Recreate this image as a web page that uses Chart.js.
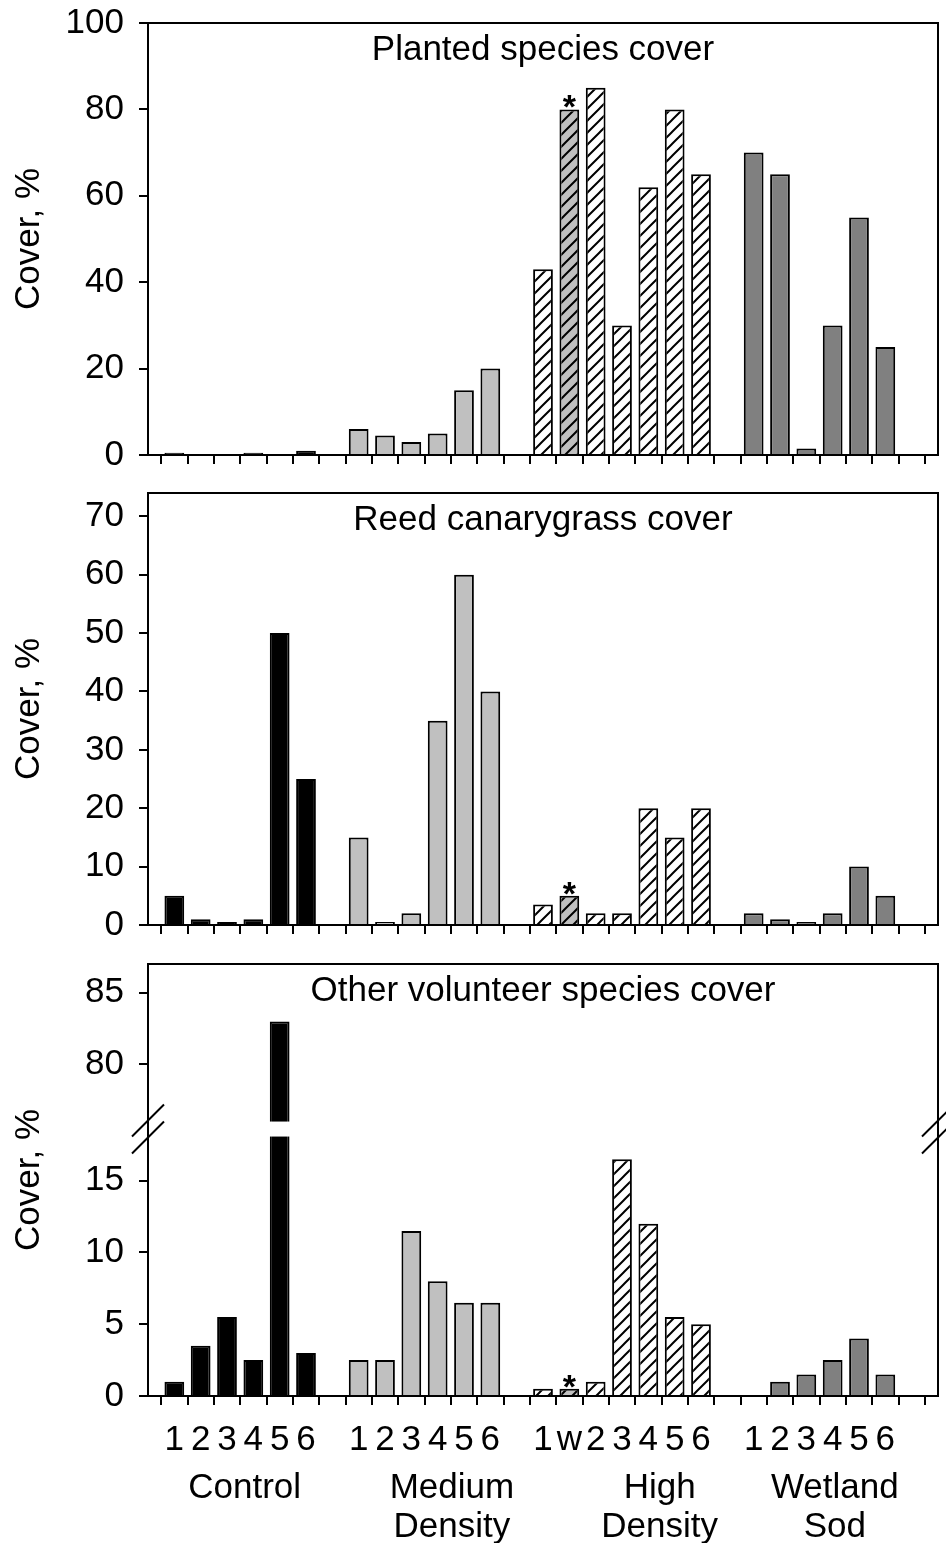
<!DOCTYPE html>
<html lang="en">
<head>
<meta charset="UTF-8">
<title>Cover by treatment</title>
<script src="https://cdn.jsdelivr.net/npm/chart.js"></script>
<style>
  body { margin: 0; background: #fff; }
  canvas { position: absolute; left: 0; }
</style>
</head>
<body>
<canvas id="planted" width="946" height="478" style="top:0px"></canvas>
<canvas id="reed" width="946" height="470" style="top:478px"></canvas>
<canvas id="other" width="946" height="595" style="top:948px"></canvas>

<script>
    // plots per treatment, in axis order
    const treatments = [['Control'], ['Medium', 'Density'], ['High', 'Density'], ['Wetland', 'Sod']];
    const plotLabels = [
        ['1', '2', '3', '4', '5', '6'],
        ['1', '2', '3', '4', '5', '6'],
        ['1', 'w', '2', '3', '4', '5', '6'],
        ['1', '2', '3', '4', '5', '6']
    ];

    // cover, % (read per plot, same order as plotLabels)
    const planted = [0.5, 0, 0, 0.5, 0, 1,   6, 4.5, 3, 5, 15, 20,   43, 80, 85, 30, 62, 80, 65,   70, 65, 1.5, 30, 55, 25];
    const reed    = [5, 1, 0.5, 1, 50, 25,   15, 0.5, 2, 35, 60, 40,   3.5, 5, 2, 2, 20, 15, 20,   2, 1, 0.5, 2, 10, 5];
    const other   = [1, 3.5, 5.5, 2.5, 83, 3,   2.5, 2.5, 11.5, 8, 6.5, 6.5,   0.5, 0.5, 1, 16.5, 12, 5.5, 5,   0, 1, 1.5, 2.5, 4, 1.5];

    const plantedTicks = [0, 20, 40, 60, 80, 100];
    const reedTicks = [0, 10, 20, 30, 40, 50, 60, 70];
    const otherTicks = [0, 5, 10, 15, 80, 85];

    // broken axis on the bottom panel: values above breakAt are shifted down
    const breakAt = 18.6;
    const breakShift = 56.9;
    const toAxis = v => v > breakAt ? v - breakShift : v;
    const fromAxis = v => v > breakAt ? v + breakShift : v;

    // centre of each treatment name, in category units
    const treatmentPos = [3.67, 11.54, 19.43, 26.08];

    const FONT = "'Liberation Sans', Arial, sans-serif";
    Chart.defaults.font.family = FONT;
    Chart.defaults.color = '#000';

    // one empty slot at each end and between treatments
    const labels = [''];
    const slotGroup = [null];
    const slotPlot = [null];
    plotLabels.forEach((group, gi) => {
        group.forEach(p => {
            labels.push(p);
            slotGroup.push(gi);
            slotPlot.push(p);
        });
        labels.push('');
        slotGroup.push(null);
        slotPlot.push(null);
    });
    labels.push('');
    slotGroup.push(null);
    slotPlot.push(null);

    function spread(values) {
        let k = 0;
        return slotGroup.map(g => g === null ? null : values[k++]);
    }

    function hatch(bg) {
        const c = document.createElement('canvas');
        c.width = 12;
        c.height = 12;
        const g = c.getContext('2d');
        g.fillStyle = bg;
        g.fillRect(0, 0, 12, 12);
        g.strokeStyle = '#000';
        g.lineWidth = 2;
        g.beginPath();
        g.moveTo(-2, 2); g.lineTo(2, -2);
        g.moveTo(-2, 14); g.lineTo(14, -2);
        g.moveTo(10, 14); g.lineTo(14, 10);
        g.stroke();
        return g.createPattern(c, 'repeat');
    }

    const hatchWhite = hatch('#ffffff');
    const hatchGrey = hatch('#c0c0c0');
    const groupFill = ['#000000', '#c0c0c0', hatchWhite, '#808080'];

    function fillFor(i) {
        const g = slotGroup[i];
        if (g === null) return 'transparent';
        if (g === 2 && slotPlot[i] === 'w') return hatchGrey;
        return groupFill[g];
    }

    const frame = {
        id: 'frame',
        afterDatasetsDraw(chart) {
            const {ctx, chartArea: a} = chart;
            ctx.save();
            ctx.strokeStyle = '#000';
            ctx.lineWidth = 2;
            ctx.strokeRect(a.left, a.top, a.right - a.left, a.bottom - a.top);
            ctx.restore();
        }
    };

    const panelTitle = {
        id: 'panelTitle',
        afterDatasetsDraw(chart, args, opts) {
            const {ctx, chartArea: a} = chart;
            ctx.save();
            ctx.font = '35px ' + FONT;
            ctx.fillStyle = '#000';
            ctx.textAlign = 'center';
            ctx.textBaseline = 'alphabetic';
            ctx.fillText(opts.text, (a.left + a.right) / 2, a.top + 37);
            ctx.restore();
        }
    };

    const star = {
        id: 'star',
        afterDatasetsDraw(chart) {
            const {ctx} = chart;
            const bar = chart.getDatasetMeta(0).data[slotPlot.indexOf('w')];
            ctx.save();
            ctx.font = 'bold 34px ' + FONT;
            ctx.fillStyle = '#000';
            ctx.textAlign = 'center';
            ctx.textBaseline = 'alphabetic';
            ctx.fillText('*', bar.x, bar.y + 9);
            ctx.restore();
        }
    };

    const axisBreak = {
        id: 'axisBreak',
        afterDatasetsDraw(chart) {
            const {ctx, chartArea: a, scales: {y}} = chart;
            const yb = y.getPixelForValue(breakAt);
            const data = chart.data.datasets[0].data;
            ctx.save();
            ctx.fillStyle = '#fff';
            chart.getDatasetMeta(0).data.forEach((bar, i) => {
                if (data[i] !== null && data[i] > breakAt) {
                    ctx.fillRect(bar.x - bar.width / 2 - 1, yb - 7.5, bar.width + 2, 15);
                }
            });
            ctx.strokeStyle = '#000';
            ctx.lineWidth = 2;
            [a.left, a.right].forEach(x => {
                [-8.5, 8.5].forEach(d => {
                    ctx.beginPath();
                    ctx.moveTo(x - 16, yb + d + 16);
                    ctx.lineTo(x + 16, yb + d - 16);
                    ctx.stroke();
                });
            });
            ctx.restore();
        }
    };

    const treatmentNames = {
        id: 'treatmentNames',
        afterDraw(chart) {
            const {ctx, chartArea: a, scales: {x}} = chart;
            ctx.save();
            ctx.font = '35px ' + FONT;
            ctx.fillStyle = '#000';
            ctx.textAlign = 'center';
            ctx.textBaseline = 'alphabetic';
            treatments.forEach((lines, i) => {
                const px = x.getPixelForValue(treatmentPos[i]);
                lines.forEach((t, j) => ctx.fillText(t, px, a.bottom + 102 + j * 39));
            });
            ctx.restore();
        }
    };

    function fromAxisFor(opts, v) {
        return opts.broken ? fromAxis(v) : v;
    }

    function draw(id, values, opts) {
        const map = opts.map || (v => v);
        const dataObj = {
            labels: labels,
            datasets: [{
                data: spread(values.map(map)),
                backgroundColor: ctx => fillFor(ctx.dataIndex),
                borderColor: '#000',
                borderWidth: 2,
                barPercentage: 0.75,
                categoryPercentage: 1
            }]
        };

        const plugins = [frame, panelTitle, star];
        if (opts.broken) plugins.push(axisBreak);
        if (opts.names) plugins.push(treatmentNames);

        new Chart(id, {
            type: 'bar',
            data: dataObj,
            plugins: plugins,
            options: {
                responsive: false,
                animation: false,
                layout: {padding: {top: opts.top, right: 8, left: 0, bottom: 0}},
                plugins: {
                    legend: {display: false},
                    tooltip: {enabled: false},
                    panelTitle: {text: opts.title}
                },
                scales: {
                    x: {
                        type: 'category',
                        offset: false,
                        grid: {drawOnChartArea: false, drawTicks: true, tickLength: 9, color: '#000', lineWidth: 2},
                        border: {display: true, color: '#000', width: 2},
                        ticks: {
                            display: !!opts.names,
                            autoSkip: false,
                            maxRotation: 0,
                            padding: 14,
                            font: {size: 35}
                        },
                        afterFit: s => {
                            s.height = opts.xHeight;
                            s.paddingLeft = 0;
                            s.paddingRight = 0;
                        }
                    },
                    y: {
                        min: 0,
                        max: opts.max,
                        grid: {drawOnChartArea: false, tickLength: 9, color: '#000', lineWidth: 2},
                        border: {display: true, color: '#000', width: 2},
                        ticks: {
                            autoSkip: false,
                            padding: 15,
                            font: {size: 35},
                            callback: v => String(Math.round(fromAxisFor(opts, v) * 10) / 10)
                        },
                        title: {
                            display: true,
                            text: 'Cover, %',
                            font: {size: 35},
                            padding: {top: 8, bottom: 0}
                        },
                        afterBuildTicks: s => { s.ticks = opts.ticks.map(v => ({value: map(v)})); },
                        afterFit: s => {
                            s.width = 148;
                            s.paddingTop = 0;
                            s.paddingBottom = 0;
                        }
                    }
                }
            }
        });
    }

    draw('planted', planted, {title: 'Planted species cover', max: 100, ticks: plantedTicks, top: 23, xHeight: 23});
    draw('reed', reed, {title: 'Reed canarygrass cover', max: 74, ticks: reedTicks, top: 15, xHeight: 23});
    draw('other', other, {
        title: 'Other volunteer species cover', max: 87 - breakShift, ticks: otherTicks,
        top: 16, xHeight: 147, broken: true, names: true, map: toAxis
    });
</script>
</body>
</html>
